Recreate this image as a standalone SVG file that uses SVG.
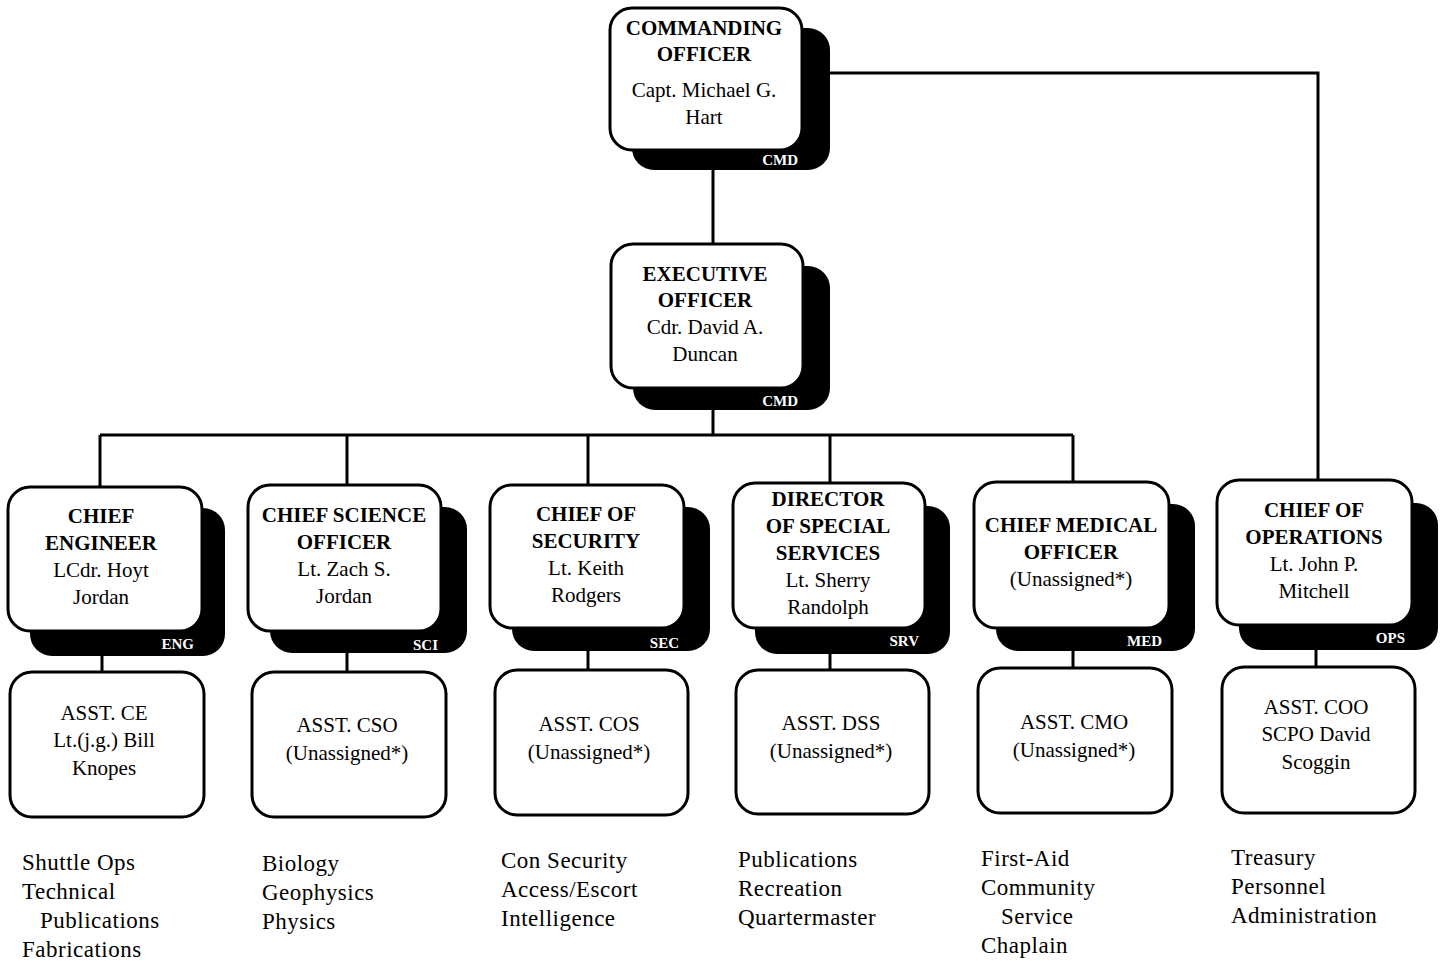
<svg xmlns="http://www.w3.org/2000/svg" width="1442" height="961" viewBox="0 0 1442 961">
<style>
.box{fill:#fff;stroke:#000;stroke-width:3}
.sh{fill:#000}
.t{font-family:"Liberation Serif","Times New Roman",serif;font-size:21px;text-anchor:middle;fill:#000}
.b{font-weight:bold}
.tag{font-family:"Liberation Serif","Times New Roman",serif;font-size:15px;font-weight:bold;fill:#fff;text-anchor:end}
.ln{stroke:#000;stroke-width:3;fill:none}
.lst{font-family:"Liberation Serif","Times New Roman",serif;font-size:23px;letter-spacing:0.5px;fill:#000}
</style>
<rect width="1442" height="961" fill="#fff"/>
<g id="connectors">
<path class="ln" d="M713 170V244M713 410V435M100 435H1073M100 435V487M347 435V485M588 435V485M830 435V483M1073 435V482M830 73H1318V480"/>
<path class="ln" d="M102 655V672M347 652V672M588 651V670M830 654V670M1073 651V668M1316 650V667"/>
</g>
<g id="co">
<rect class="sh" x="632" y="28" width="198" height="142" rx="22"/>
<rect class="box" x="610" y="8" width="192" height="142" rx="22"/>
<text class="t b" x="704" y="35">COMMANDING</text>
<text class="t b" x="704" y="61">OFFICER</text>
<text class="t" x="704" y="97">Capt. Michael G.</text>
<text class="t" x="704" y="124">Hart</text>
<text class="tag" x="798" y="165">CMD</text>
</g>
<g id="xo">
<rect class="sh" x="633" y="266" width="197" height="144" rx="22"/>
<rect class="box" x="611" y="244" width="192" height="144" rx="22"/>
<text class="t b" x="705" y="281">EXECUTIVE</text>
<text class="t b" x="705" y="307">OFFICER</text>
<text class="t" x="705" y="334">Cdr. David A.</text>
<text class="t" x="705" y="361">Duncan</text>
<text class="tag" x="798" y="406">CMD</text>
</g>
<g id="eng">
<rect class="sh" x="30" y="508" width="195" height="148" rx="22"/>
<rect class="box" x="8" y="487" width="194" height="144" rx="22"/>
<text class="t b" x="101" y="523">CHIEF</text>
<text class="t b" x="101" y="550">ENGINEER</text>
<text class="t" x="101" y="577">LCdr. Hoyt</text>
<text class="t" x="101" y="604">Jordan</text>
<text class="tag" x="194" y="649">ENG</text>
</g>
<g id="sci">
<rect class="sh" x="270" y="507" width="197" height="146" rx="22"/>
<rect class="box" x="248" y="485" width="193" height="146" rx="22"/>
<text class="t b" x="344" y="522">CHIEF SCIENCE</text>
<text class="t b" x="344" y="549">OFFICER</text>
<text class="t" x="344" y="576">Lt. Zach S.</text>
<text class="t" x="344" y="603">Jordan</text>
<text class="tag" x="438" y="650">SCI</text>
</g>
<g id="sec">
<rect class="sh" x="512" y="507" width="198" height="144" rx="22"/>
<rect class="box" x="490" y="485" width="194" height="143" rx="22"/>
<text class="t b" x="586" y="521">CHIEF OF</text>
<text class="t b" x="586" y="548">SECURITY</text>
<text class="t" x="586" y="575">Lt. Keith</text>
<text class="t" x="586" y="602">Rodgers</text>
<text class="tag" x="679" y="648">SEC</text>
</g>
<g id="srv">
<rect class="sh" x="755" y="506" width="195" height="148" rx="22"/>
<rect class="box" x="733" y="483" width="192" height="145" rx="22"/>
<text class="t b" x="828" y="506">DIRECTOR</text>
<text class="t b" x="828" y="533">OF SPECIAL</text>
<text class="t b" x="828" y="560">SERVICES</text>
<text class="t" x="828" y="587">Lt. Sherry</text>
<text class="t" x="828" y="614">Randolph</text>
<text class="tag" x="919" y="646">SRV</text>
</g>
<g id="med">
<rect class="sh" x="996" y="504" width="199" height="147" rx="22"/>
<rect class="box" x="974" y="482" width="195" height="146" rx="22"/>
<text class="t b" x="1071" y="532">CHIEF MEDICAL</text>
<text class="t b" x="1071" y="559">OFFICER</text>
<text class="t" x="1071" y="586">(Unassigned*)</text>
<text class="tag" x="1162" y="646">MED</text>
</g>
<g id="ops">
<rect class="sh" x="1239" y="503" width="199" height="147" rx="22"/>
<rect class="box" x="1217" y="480" width="195" height="145" rx="22"/>
<text class="t b" x="1314" y="517">CHIEF OF</text>
<text class="t b" x="1314" y="544">OPERATIONS</text>
<text class="t" x="1314" y="571">Lt. John P.</text>
<text class="t" x="1314" y="598">Mitchell</text>
<text class="tag" x="1405" y="643">OPS</text>
</g>
<g id="asst-ce">
<rect class="box" x="10" y="672" width="194" height="145" rx="22"/>
<text class="t" x="104" y="720">ASST. CE</text>
<text class="t" x="104" y="747">Lt.(j.g.) Bill</text>
<text class="t" x="104" y="775">Knopes</text>
</g>
<g id="asst-cso">
<rect class="box" x="252" y="672" width="194" height="145" rx="22"/>
<text class="t" x="347" y="732">ASST. CSO</text>
<text class="t" x="347" y="760">(Unassigned*)</text>
</g>
<g id="asst-cos">
<rect class="box" x="495" y="670" width="193" height="145" rx="22"/>
<text class="t" x="589" y="731">ASST. COS</text>
<text class="t" x="589" y="759">(Unassigned*)</text>
</g>
<g id="asst-dss">
<rect class="box" x="736" y="670" width="193" height="144" rx="22"/>
<text class="t" x="831" y="730">ASST. DSS</text>
<text class="t" x="831" y="758">(Unassigned*)</text>
</g>
<g id="asst-cmo">
<rect class="box" x="978" y="668" width="194" height="145" rx="22"/>
<text class="t" x="1074" y="729">ASST. CMO</text>
<text class="t" x="1074" y="757">(Unassigned*)</text>
</g>
<g id="asst-coo">
<rect class="box" x="1222" y="667" width="193" height="146" rx="22"/>
<text class="t" x="1316" y="714">ASST. COO</text>
<text class="t" x="1316" y="741">SCPO David</text>
<text class="t" x="1316" y="769">Scoggin</text>
</g>
<g id="lists">
<text class="lst" x="22" y="870">Shuttle Ops</text>
<text class="lst" x="22" y="899">Technical</text>
<text class="lst" x="40" y="928">Publications</text>
<text class="lst" x="22" y="957">Fabrications</text>
<text class="lst" x="262" y="871">Biology</text>
<text class="lst" x="262" y="900">Geophysics</text>
<text class="lst" x="262" y="929">Physics</text>
<text class="lst" x="501" y="868">Con Security</text>
<text class="lst" x="501" y="897">Access/Escort</text>
<text class="lst" x="501" y="926">Intelligence</text>
<text class="lst" x="738" y="867">Publications</text>
<text class="lst" x="738" y="896">Recreation</text>
<text class="lst" x="738" y="925">Quartermaster</text>
<text class="lst" x="981" y="866">First-Aid</text>
<text class="lst" x="981" y="895">Community</text>
<text class="lst" x="1001" y="924">Service</text>
<text class="lst" x="981" y="953">Chaplain</text>
<text class="lst" x="1231" y="865">Treasury</text>
<text class="lst" x="1231" y="894">Personnel</text>
<text class="lst" x="1231" y="923">Administration</text>
</g>
</svg>
